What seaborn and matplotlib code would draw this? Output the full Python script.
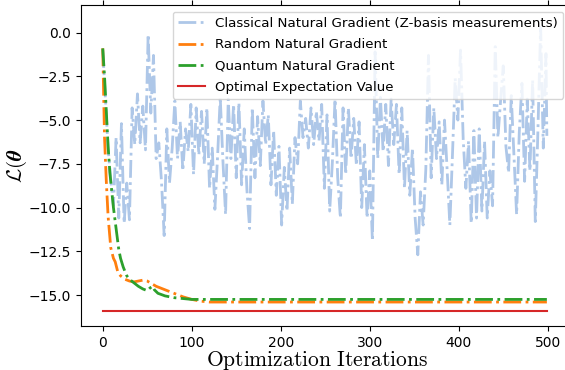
import matplotlib
matplotlib.use("Agg")
import matplotlib.pyplot as plt
import seaborn as sns

# Classical natural gradient with Z-basis measurements (noisy trajectory)
classical_iter = list(range(0, 499, 3)) + [499]
classical_loss = [
    -1.0, -3.8, -6.6, -8.4, -9.9, -6.0, -10.6, -5.2, -10.9, -8.6,
    -10.7, -4.3, -6.4, -3.5, -6.3, -4.2, -6.7, -0.1, -4.6, -1.3,
    -7.2, -6.3, -8.5, -11.6, -5.5, -8.6, -6.6, -3.9, -7.2, -5.1,
    -7.9, -5.5, -6.8, -4.1, -8.1, -4.3, -7.0, -4.5, -7.5, -4.3,
    -8.9, -6.6, -10.1, -7.1, -3.7, -7.3, -10.4, -3.8, -7.2, -4.1,
    -8.3, -4.0, -8.7, -5.5, -9.0, -11.2, -4.3, -8.3, -4.8, -7.6,
    -3.9, -6.4, -4.7, -8.7, -5.6, -9.3, -6.5, -11.0, -7.7, -10.2,
    -6.6, -9.8, -6.0, -7.5, -3.9, -6.0, -4.9, -6.6, -4.3, -6.4,
    -4.5, -6.2, -4.1, -8.9, -4.7, -10.2, -7.4, -3.8, -8.3, -10.6,
    -4.3, -8.1, -4.3, -7.2, -4.9, -7.6, -5.1, -10.0, -6.4, -10.6,
    -7.9, -11.9, -1.1, -7.2, -3.7, -6.8, -4.1, -7.6, -3.8, -6.4,
    -4.1, -8.1, -4.3, -8.9, -5.6, -9.3, -6.6, -10.6, -12.7, -9.1,
    -11.0, -7.8, -1.3, -8.3, -4.3, -7.2, -5.1, -8.7, -5.0, -7.9,
    -11.0, -6.9, -2.6, -5.0, -1.0, -6.1, -8.9, -6.2, -10.9, -5.6,
    -10.6, -5.5, -10.2, -6.2, -10.6, -7.9, -9.9, -0.8, -6.0, -3.9,
    -1.9, -6.5, -8.0, -3.6, -7.0, -10.4, -5.7, -2.9, -8.5, -3.8,
    -7.9, -2.7, -10.8, -5.5, 0.3, -6.6, -1.2, -5.9,
]

# Random natural gradient
random_iter = [0, 1, 2, 4, 6, 9, 12, 14, 17, 20, 25, 30, 35, 40, 45, 50,
               55, 60, 70, 80, 90, 100, 110, 120, 499]
random_loss = [-0.9, -3.5, -6.0, -8.5, -10.5, -12.3, -12.9, -13.1, -13.7,
               -13.9, -14.1, -14.2, -14.25, -14.2, -14.15, -14.2, -14.35,
               -14.5, -14.7, -14.9, -15.1, -15.25, -15.35, -15.4, -15.4]

# Quantum natural gradient
quantum_iter = [0, 2, 4, 6, 8, 10, 12, 14, 16, 18, 20, 23, 27, 30, 35, 40,
                45, 50, 53, 56, 58, 62, 70, 80, 90, 100, 499]
quantum_loss = [-0.9, -2.5, -4.5, -6.5, -8.0, -9.0, -10.0, -10.8, -11.6,
                -12.4, -12.9, -13.4, -13.9, -14.1, -14.3, -14.5, -14.65,
                -14.75, -14.6, -14.5, -14.7, -14.9, -15.05, -15.15, -15.2,
                -15.25, -15.25]

# Exact ground-state energy
optimal_iter = [0, 499]
optimal_loss = [-15.9, -15.9]

plt.rcParams["mathtext.fontset"] = "cm"

fig = plt.figure(figsize=(5.65, 3.7), dpi=100)
ax = fig.add_axes([80.5 / 565, 44 / 370, 489.5 / 565, 321 / 370])

sns.lineplot(x=classical_iter, y=classical_loss, ax=ax, color="#aec7e8",
             linestyle="-.", linewidth=2,
             label="Classical Natural Gradient (Z-basis measurements)")
sns.lineplot(x=random_iter, y=random_loss, ax=ax, color="#ff7f0e",
             linestyle="-.", linewidth=2, label="Random Natural Gradient")
sns.lineplot(x=quantum_iter, y=quantum_loss, ax=ax, color="#2ca02c",
             linestyle="-.", linewidth=2, label="Quantum Natural Gradient")
sns.lineplot(x=optimal_iter, y=optimal_loss, ax=ax, color="#d62728",
             linewidth=1.5, label="Optimal Expectation Value")

ax.set_xlim(-25, 525)
ax.set_ylim(-16.77, 1.58)
ax.set_xticks([0, 100, 200, 300, 400, 500])
ax.set_yticks([0.0, -2.5, -5.0, -7.5, -10.0, -12.5, -15.0])
ax.tick_params(top=True, labelsize=10)

ax.set_xlabel(r"$\mathrm{Optimization\ Iterations}$", fontsize=15.5)
ax.xaxis.set_label_coords(0.483, -0.072)
ax.set_ylabel(r"$\mathcal{L}(\boldsymbol{\theta}$", fontsize=15)
ax.yaxis.set_label_coords(-0.105, 0.5)

ax.legend(loc="upper right", fontsize=9.6, labelspacing=0.62)

fig.savefig("out.png", dpi=100)
